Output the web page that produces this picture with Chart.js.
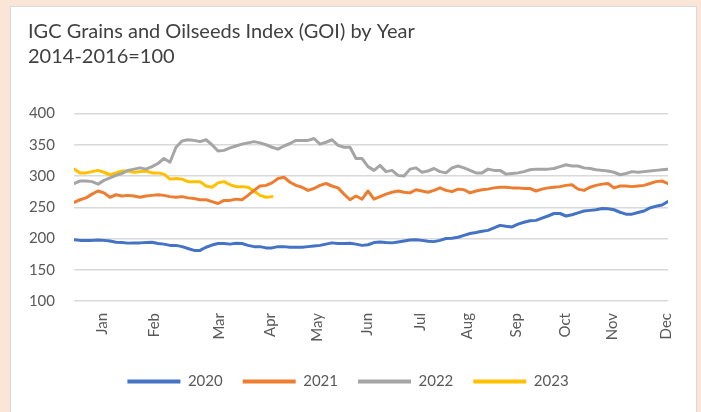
<!DOCTYPE html>
<html><head><meta charset="utf-8">
<script src="https://cdn.jsdelivr.net/npm/chart.js@4.4.0/dist/chart.umd.min.js"></script>
<style>
html,body{margin:0;padding:0;background:#FBE5D6;width:701px;height:412px;overflow:hidden;}
#panel{position:absolute;left:10px;top:6px;width:687px;height:420px;background:#fff;border:1px solid #d9d9d9;box-sizing:border-box;}
#c{position:absolute;left:0;top:0;}
</style></head><body>
<div id="panel"></div>
<canvas id="c" width="701" height="412"></canvas>
<script>
const titleLines = ['IGC Grains and Oilseeds Index (GOI) by Year', '2014-2016=100'];
const seriesNames = ['2020', '2021', '2022', '2023'];
const seriesColors = ['#4472C4', '#ED7D31', '#A5A5A5', '#FFC000'];
const monthLabels = ['Jan','Feb','Mar','Apr','May','Jun','Jul','Aug','Sep','Oct','Nov','Dec'];
const monthPositions = [4.7, 13.3, 24.2, 32.7, 40.5, 48.8, 57.7, 65.5, 73.7, 81.8, 89.7, 98.7];
const yTicks = [100, 150, 200, 250, 300, 350, 400];

const values2020 = [198,197,197,197,197.5,197,196,194,193.5,192.6,193,193,193.5,194,192,191,189,189,187,184,
  181,181,186,189.5,192,192,191,192.5,192,189,187,187,185,185,187,187,186,186,186,187,
  188,189,191,193,192,192,192.5,191,189,190,193.5,194.5,193.5,193,194.5,196,197.5,198,197,195.5,
  195,197,200,200.5,202,205,208,209.5,211.5,213,217,221,219.5,218.5,223,226,228.5,229,232.5,236,
  240,240,236,238,241,244,245,246,248,247.5,246,242,239,239,241.5,244,249,251.5,253.5,259];
const values2021 = [258,262,265,271,276,273,266,270,268,269,268,266,268,269,270,269,267,266,267,265,
  264,262,262,259,256,261,261,263,262,269,277,284,285,289,296,298,290,285,282,277,
  280,285,288,284,281,271,262,268,263,276,263,267,271,274,276,274,273,278,276,274,
  277,281,277,275,279,278,273,276,278,279,281,282,282,281,281,280,280,276,279,281,
  282,283,285,286,279,277,282,285,287,288,281,284,284,283,284,285,288,291,292,288];
const values2022 = [288,292,292,291,287,293,297,301,304,309,311,313,311,315,320,328,322,346,356,358,
  357,355,358,350,340,341,345,348,351,353,355,353,350,346,343,348,352,357,357,357,
  360,351,354,358,349,346,346,328,328,315,309,317,307,309,301,300,311,313,306,308,
  312,307,305,313,316,313,309,305,305,311,309,309,303,304,305,307,310,311,311,311,
  312,315,318,316,316,313,312,310,309,308,306,302,304,307,306,307,308,309,310,311];
const values2023 = [311,305,305,307,309,306,302,305,308,308,306,307,308,305,305,303,295,296,295,291,
  291,291,284,282,289,291,286,283,283,282,276,269,266,267];

const allValues = [values2020, values2021, values2022, values2023];
const tickFont = {family: 'Lato', size: 15};
const textColor = '#595959';

new Chart(document.getElementById('c'), {
  type: 'line',
  data: {
    datasets: seriesNames.map((name, k) => ({
      label: name,
      data: allValues[k].map((v, i) => ({x: i, y: v})),
      borderColor: seriesColors[k],
      backgroundColor: seriesColors[k],
      borderWidth: 3,
      pointRadius: 0,
      tension: 0,
      borderJoinStyle: 'round',
      borderCapStyle: 'round'
    }))
  },
  options: {
    responsive: false,
    animation: false,
    devicePixelRatio: 1,
    layout: {padding: {left: 28, right: 33, top: 8, bottom: 13}},
    plugins: {
      title: {
        display: true, text: titleLines, align: 'start', color: '#404040',
        font: {family: 'Lato', size: 20, weight: 'normal', lineHeight: 1.25},
        padding: {top: 11.5, bottom: 44}
      },
      legend: {
        position: 'bottom',
        labels: {
          boxWidth: 53, boxHeight: 4, padding: 20, color: textColor, font: tickFont,
          generateLabels: chart => Chart.defaults.plugins.legend.labels.generateLabels(chart).map(l => Object.assign(l, {lineWidth: 0}))
        }
      },
      tooltip: {enabled: false}
    },
    scales: {
      x: {
        type: 'linear', min: 0, max: 99,
        grid: {display: false}, border: {display: false},
        afterBuildTicks: s => { s.ticks = monthPositions.map(v => ({value: v})); },
        ticks: {
          autoSkip: false, maxRotation: 90, minRotation: 90, padding: 4,
          color: textColor, font: tickFont,
          callback: (v, i) => monthLabels[i]
        },
        afterFit: s => { s.height = 53; }
      },
      y: {
        min: 100, max: 400,
        afterBuildTicks: s => { s.ticks = yTicks.map(v => ({value: v})); },
        ticks: {padding: 19, color: textColor, font: tickFont},
        grid: {color: '#d9d9d9', lineWidth: 1.5, drawTicks: false},
        border: {display: false},
        afterFit: s => { s.width = 46; }
      }
    }
  }
});
</script>
</body></html>
